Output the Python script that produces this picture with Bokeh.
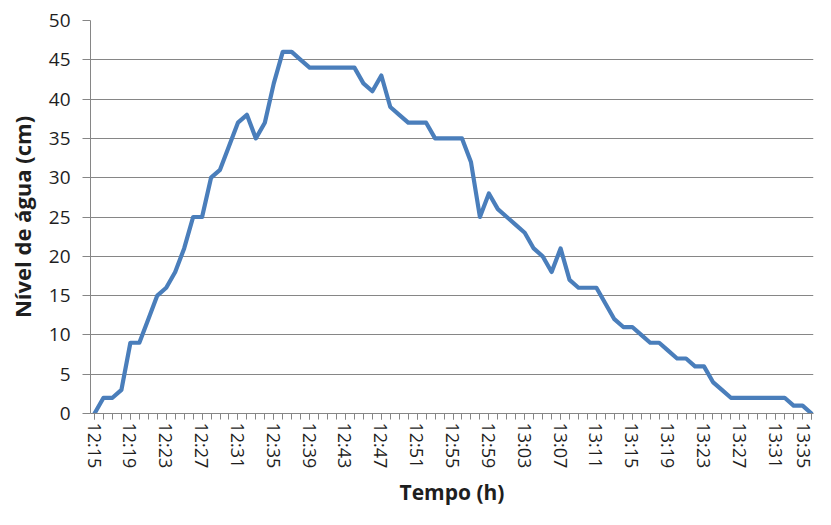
from bokeh.plotting import figure
from bokeh.models import Range1d, FixedTicker
from bokeh.embed import file_html
from bokeh.resources import INLINE

times = ["12:15", "12:16", "12:17", "12:18", "12:19", "12:20", "12:21", "12:22", "12:23", "12:24",
         "12:25", "12:26", "12:27", "12:28", "12:29", "12:30", "12:31", "12:32", "12:33", "12:34",
         "12:35", "12:36", "12:37", "12:38", "12:39", "12:40", "12:41", "12:42", "12:43", "12:44",
         "12:45", "12:46", "12:47", "12:48", "12:49", "12:50", "12:51", "12:52", "12:53", "12:54",
         "12:55", "12:56", "12:57", "12:58", "12:59", "13:00", "13:01", "13:02", "13:03", "13:04",
         "13:05", "13:06", "13:07", "13:08", "13:09", "13:10", "13:11", "13:12", "13:13", "13:14",
         "13:15", "13:16", "13:17", "13:18", "13:19", "13:20", "13:21", "13:22", "13:23", "13:24",
         "13:25", "13:26", "13:27", "13:28", "13:29", "13:30", "13:31", "13:32", "13:33", "13:34",
         "13:35"]

nivel = [0, 2, 2, 3, 9, 9, 12, 15, 16, 18,
         21, 25, 25, 30, 31, 34, 37, 38, 35, 37,
         42, 46, 46, 45, 44, 44, 44, 44, 44, 44,
         42, 41, 43, 39, 38, 37, 37, 37, 35, 35,
         35, 35, 32, 25, 28, 26, 25, 24, 23, 21,
         20, 18, 21, 17, 16, 16, 16, 14, 12, 11,
         11, 10, 9, 9, 8, 7, 7, 6, 6, 4,
         3, 2, 2, 2, 2, 2, 2, 2, 1, 1,
         0]

x_tick_labels = ["12:15", "12:19", "12:23", "12:27", "12:31", "12:35", "12:39", "12:43", "12:47",
                 "12:51", "12:55", "12:59", "13:03", "13:07", "13:11", "13:15", "13:19", "13:23",
                 "13:27", "13:31", "13:35"]
y_ticks = [0, 5, 10, 15, 20, 25, 30, 35, 40, 45, 50]

x = list(range(len(times)))
major_x = [times.index(t) for t in x_tick_labels]

FONT = "Open Sans"
GRID = "#868686"
TEXT = "#1e1e1e"

p = figure(width=815, height=509, output_backend="svg", toolbar_location=None,
           x_range=Range1d(-0.45, 80.22), y_range=Range1d(0, 50),
           min_border_left=90, min_border_right=2, min_border_top=20, min_border_bottom=96)
p.outline_line_color = None
p.background_fill_color = "white"
p.border_fill_color = "white"

p.line(x, nivel, line_color="#4A7EBB", line_width=4.2, line_join="round", line_cap="round")

# x axis
xa = p.xaxis[0]
xa.ticker = FixedTicker(ticks=major_x, minor_ticks=x)
xa.major_label_overrides = {i: t for i, t in zip(major_x, x_tick_labels)}
xa.major_label_orientation = "vertical"
xa.major_label_text_font = FONT
xa.major_label_text_font_size = "18px"
xa.major_label_text_color = TEXT
xa.major_label_standoff = 3
xa.axis_line_color = GRID
xa.major_tick_line_color = GRID
xa.minor_tick_line_color = GRID
xa.major_tick_in = 0
xa.major_tick_out = 6
xa.minor_tick_in = 0
xa.minor_tick_out = 6
xa.axis_label = "Tempo (h)"
xa.axis_label_text_font = FONT
xa.axis_label_text_font_style = "bold"
xa.axis_label_text_font_size = "21px"
xa.axis_label_text_color = TEXT
xa.axis_label_standoff = 7

# y axis
ya = p.yaxis[0]
ya.ticker = FixedTicker(ticks=y_ticks, minor_ticks=[])
ya.major_label_text_font = FONT
ya.major_label_text_font_size = "19px"
ya.major_label_text_color = TEXT
ya.major_label_standoff = 12
ya.axis_line_color = GRID
ya.major_tick_line_color = GRID
ya.major_tick_in = 0
ya.major_tick_out = 8
ya.minor_tick_line_color = None
ya.axis_label = "Nível de água (cm)"
ya.axis_label_text_font = FONT
ya.axis_label_text_font_style = "bold"
ya.axis_label_text_font_size = "22px"
ya.axis_label_text_color = TEXT
ya.axis_label_standoff = 9

p.xgrid.grid_line_color = None
p.ygrid.ticker = FixedTicker(ticks=y_ticks)
p.ygrid.grid_line_color = GRID
p.ygrid.grid_line_width = 1

open("out.html", "w").write(file_html(p, INLINE))
